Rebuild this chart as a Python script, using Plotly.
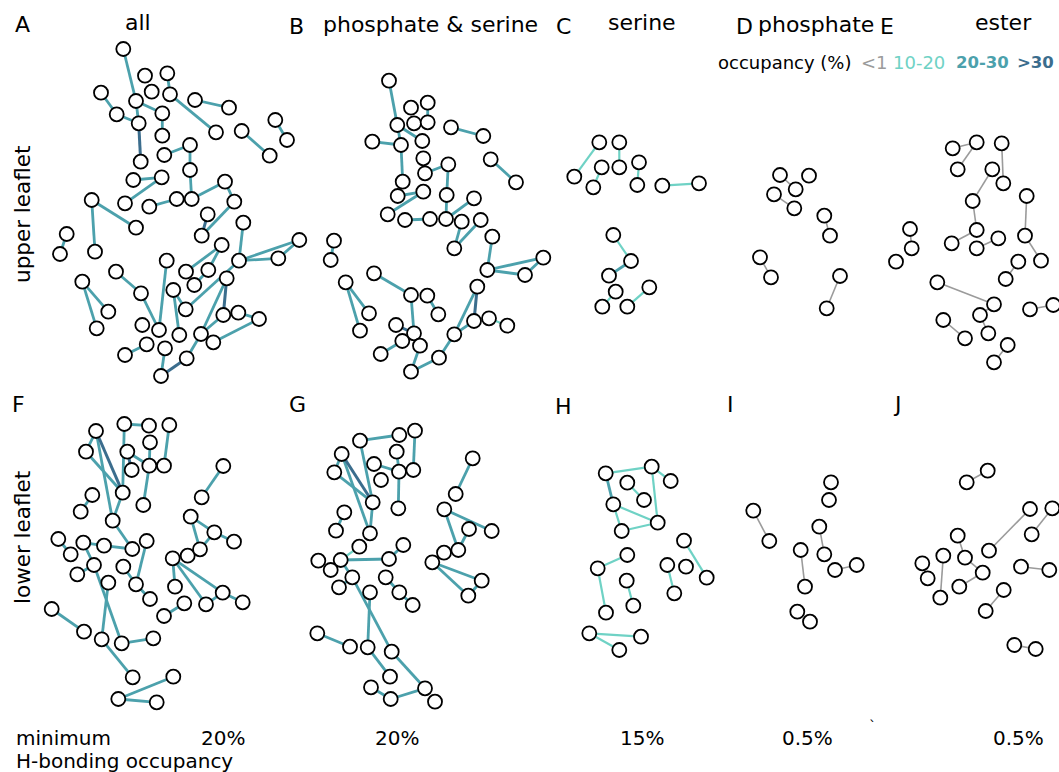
import plotly.graph_objects as go

W, H = 1059, 772

LEVEL_NAMES = ["<1", "10-20", "20-30", ">30"]
LEVEL_COLORS = ["#9b9b9b", "#6fd2c5", "#4ca1ac", "#3b6d8d"]
LEVEL_WIDTHS = [1.6, 2.2, 2.8, 3.0]

# ---- node positions (layout coordinates) and edges (i, j, occupancy level) ----
A_nodes = [(123.3,49),(145,75.7),(167.3,73.3),(151.7,91.7),(170,94.3),(101,92.7),(136,101),(195,100),(229,107.7),(116.7,114.3),(162.3,113.3),(138.7,123.3),(275.3,120),(216,132.3),(241.7,131),(287,140),(162.3,135.7),(190,145),(164.3,155),(269.7,155.7),(140.7,161.7),(190,170),(133.3,180),(161.7,177.3),(225,181.7),(91.7,200),(125,203.3),(176.7,199),(191.7,199),(149.3,206.7),(234.3,201.7),(207.7,214.3),(136,227.7),(243.3,222.7),(201.7,235.7),(66.7,234),(60,254),(95,251.7),(299.3,240),(221.7,245),(278.3,258.3),(239,260.7),(166.7,260.7),(116,271.7),(186,271.7),(208.3,270),(82.3,281.7),(226.7,278.3),(194.3,285),(173.3,290),(141,293.3),(108.3,311.7),(185.7,309.3),(238.3,312.7),(223.3,315),(259,319),(96.7,328.3),(142.3,325),(159,330),(179.3,335),(201,334),(213.3,342.3),(146.7,344.3),(165,348.3),(125,355),(186.7,358.3),(161,376)]
A_edges = [(1,7,2),(3,5,2),(5,14,2),(6,10,2),(10,12,2),(7,12,2),(7,11,2),(11,17,2),(12,21,3),(8,9,2),(13,16,2),(15,20,2),(18,19,2),(18,22,2),(22,29,2),(29,25,2),(25,31,2),(31,35,2),(32,35,3),(23,24,2),(24,27,2),(30,28,2),(26,33,2),(26,38,2),(36,37,2),(34,42,2),(42,39,2),(42,41,2),(41,39,2),(40,45,2),(40,46,2),(46,49,2),(42,53,2),(48,55,3),(48,61,2),(61,66,2),(55,61,2),(66,67,3),(64,67,2),(54,56,2),(56,62,2),(43,59,2),(51,59,2),(44,51,2),(50,53,2),(50,60,2),(47,52,2),(47,57,2),(63,65,2)]

B_nodes = [(389,80.7),(411,107.7),(427.7,102.7),(414,123.3),(427.7,122.3),(397.3,125),(451,127.3),(483.3,136),(372.3,141.7),(401,145),(422.3,141),(423.3,158.3),(490.7,159.3),(448.3,164.3),(425,173.3),(516,182.3),(402.7,181.7),(446.7,195),(397.7,196),(423.3,191.7),(474,198.3),(387.7,214.3),(405,220),(430,219),(446,219),(461.7,221.7),(480.7,220),(454.3,248.3),(334,240.7),(330.7,260),(492.3,236.7),(543.3,257.7),(487.3,270),(525,275),(374,273.3),(345.7,282.3),(477.3,286.7),(411,295),(427.3,295.7),(369,313.3),(438.3,314.3),(360,330.7),(396,325),(489,318.3),(507.3,325.7),(474,321),(414,333.3),(454.3,334.3),(402.3,341),(420,345.7),(380.7,354),(439,357.7),(411,371.7)]
B_edges = [(1,6,2),(3,5,2),(6,10,2),(6,11,2),(9,10,2),(10,17,2),(7,8,2),(13,16,2),(14,15,2),(14,18,2),(18,25,2),(25,21,2),(19,20,2),(20,22,2),(23,24,2),(26,28,2),(27,28,2),(29,30,2),(31,33,2),(33,32,2),(33,34,2),(34,32,2),(35,38,2),(38,47,2),(39,41,2),(36,40,2),(36,42,2),(37,48,2),(37,46,3),(46,48,2),(48,52,2),(52,53,2),(53,50,2),(44,45,1),(43,47,3),(49,51,2)]

C_nodes = [(599.3,142.3),(619.3,142.3),(601.7,167.3),(619.3,167.3),(639,162.3),(574.3,176.7),(593.3,187.3),(637.3,185),(662.3,185.7),(699,183.3),(613.3,235),(631,261),(609,275.7),(615.7,291.7),(649.3,287.3),(602.3,306.7),(627.3,306.7)]
C_edges = [(1,6,1),(2,4,1),(3,7,1),(5,8,1),(9,10,1),(11,12,1),(12,13,2),(14,16,1),(15,17,1)]

D_nodes = [(780,175),(809,175.7),(795.7,189.3),(774,194.3),(794.3,208.3),(824.3,215.7),(830,235.7),(760,257.3),(771,277.3),(840,276),(826.7,308.3)]
D_edges = [(1,3,0),(4,5,0),(6,7,0),(8,9,0),(10,11,0)]

E_nodes = [(952.7,148.3),(976.7,142.3),(1001.7,143.3),(957.7,169.3),(992.3,169.3),(1003.3,183.3),(1026.7,196),(972.7,201),(910,229),(976.7,230),(1025,235.7),(951.7,243.3),(998.3,238.3),(911.7,248.3),(976.7,248.3),(896,261.7),(1018.3,261.7),(1041,260.7),(1005.7,279),(937.3,282.3),(994,304.3),(980,315),(1030,309.3),(1053.3,305),(943.3,320),(988.3,333.3),(965,338.3),(1007.7,345),(994,362.3)]
E_edges = [(1,2,0),(2,4,0),(3,6,0),(5,8,0),(8,10,0),(10,12,0),(15,13,0),(7,11,0),(11,18,0),(17,19,0),(9,14,0),(20,21,0),(21,22,0),(22,26,0),(23,24,0),(25,27,0),(28,29,0)]

F_nodes = [(124.3,424),(149,425.7),(169.3,425),(96,431),(150,442.3),(86,451.7),(127.3,451.7),(149.3,465.7),(164,465.7),(131.7,470),(223.3,466),(122.7,492.7),(92.3,495),(143.3,505),(201.7,497.3),(80.7,511.7),(112.7,520.7),(190.7,516.7),(214.3,532.3),(58.3,539),(83.3,542.7),(104,545.7),(132.3,549),(146.7,541),(234,541.7),(70.7,554.3),(187.7,555.7),(200,549.3),(172.7,558.3),(94,565),(123.3,566.7),(77.3,574.3),(108.3,582.7),(136,584.3),(175,586.7),(222.7,592.7),(150,599),(206,604.3),(242.7,602.3),(184.3,603.3),(164,616),(51.7,609),(84,631.7),(101.7,639.3),(121.7,643.3),(153.3,638.3),(132.7,677.3),(173.3,676.7),(118.3,699),(156.7,702.3)]
F_edges = [(1,2,2),(1,12,2),(3,9,2),(4,6,2),(4,12,3),(4,17,2),(6,12,2),(7,8,2),(7,10,3),(5,8,2),(8,14,2),(12,17,2),(17,23,2),(13,16,2),(11,15,2),(18,19,2),(18,28,2),(19,28,2),(19,25,2),(20,26,2),(21,22,2),(21,30,2),(30,45,2),(33,44,2),(30,32,2),(22,23,2),(24,34,2),(31,34,2),(34,37,2),(29,35,2),(29,36,2),(29,38,2),(36,38,2),(36,39,2),(40,41,2),(42,43,2),(45,46,2),(44,47,2),(49,48,2),(49,50,2)]

G_nodes = [(360,440.7),(399.3,435),(415,430.7),(341.7,454),(396.7,451.7),(374,464),(334.3,472.3),(399,471.7),(413.3,470),(381,480),(472.7,458.3),(372.7,502.3),(398.3,508.3),(455.7,494),(344.3,512.3),(444.3,509.3),(336,530.7),(370,533.3),(469,529),(491.7,531),(359.3,546.7),(403.3,545),(458.3,550),(444,552.7),(318.3,560.7),(340.7,560),(389,559),(432.3,562.3),(330.7,570),(352.3,577.3),(385.7,577.3),(339,587.3),(370,592.3),(399.3,592.3),(481.7,580.7),(468.3,595.7),(412.7,605),(317.3,633.3),(350,646.7),(367.7,647.3),(391.7,651.7),(390,676.7),(371,687.3),(390.7,699),(425,688.3),(435,701.7)]
G_edges = [(1,2,2),(1,12,2),(3,9,2),(4,7,2),(4,12,3),(4,18,2),(7,12,2),(12,18,2),(6,8,2),(5,8,2),(8,13,2),(11,14,2),(15,17,2),(16,20,2),(16,23,2),(19,23,2),(21,26,1),(26,27,2),(27,22,2),(28,35,2),(28,36,2),(35,36,2),(26,30,2),(30,32,2),(30,41,2),(33,40,2),(31,34,2),(34,37,2),(38,39,2),(40,42,2),(41,45,2),(43,44,2),(44,45,2)]

H_nodes = [(605.7,473.3),(651.7,466.7),(670.7,481),(627.3,482.7),(644,500),(613.3,504.3),(657.7,522.7),(621.7,531),(684,540.7),(627.3,555),(597.7,568.3),(667.3,565),(686,566.7),(626.7,580.7),(706.7,577.7),(674.3,593.3),(633.3,605.7),(606,612.7),(589.3,633.3),(641,636.7),(619.3,650)]
H_edges = [(1,2,1),(1,6,2),(2,3,1),(2,7,1),(4,5,1),(6,7,1),(6,8,1),(8,7,1),(10,11,1),(11,18,1),(14,17,1),(12,16,1),(9,15,1),(19,20,1),(19,21,1)]

I_nodes = [(831,482.3),(829,500),(753.3,510.7),(819.3,526.7),(769.3,541),(800.7,550),(824.3,554.3),(835,570),(856.7,565),(805,586.7),(797.3,611.7),(810,621.7)]
I_edges = [(3,5,0),(4,7,0),(6,10,0),(8,9,0)]

J_nodes = [(987.7,470.7),(966.7,482.3),(1030,509),(1052.3,508.3),(1031.7,534.3),(957.7,535.7),(989,550.7),(943.3,555.7),(965,557.7),(922.3,563.3),(1021,566.7),(1049.3,570),(982.7,572.7),(927.7,578.3),(959.3,586.7),(1003.7,590),(940.3,597.7),(985.7,611),(1014.3,645),(1035.7,649)]
J_edges = [(1,2,0),(3,7,0),(4,5,0),(6,9,0),(9,13,0),(13,15,0),(8,17,0),(11,12,0),(16,18,0),(19,20,0)]

panels = [(A_nodes, A_edges), (B_nodes, B_edges), (C_nodes, C_edges), (D_nodes, D_edges),
          (E_nodes, E_edges), (F_nodes, F_edges), (G_nodes, G_edges), (H_nodes, H_edges),
          (I_nodes, I_edges), (J_nodes, J_edges)]

panel_letters = ["A", "B", "C", "D", "E", "F", "G", "H", "I", "J"]
panel_titles = ["all", "phosphate & serine", "serine", "phosphate", "ester"]
min_occupancy = ["20%", "20%", "15%", "0.5%", "0.5%"]

fig = go.Figure()

# edges first
for nodes, edges in panels:
    for lvl in range(4):
        xs, ys = [], []
        for i, j, l in edges:
            if l != lvl:
                continue
            xs += [nodes[i-1][0], nodes[j-1][0], None]
            ys += [nodes[i-1][1], nodes[j-1][1], None]
        if xs:
            fig.add_trace(go.Scatter(x=xs, y=ys, mode="lines",
                                     line=dict(color=LEVEL_COLORS[lvl], width=LEVEL_WIDTHS[lvl]),
                                     hoverinfo="skip", showlegend=False))
# nodes
for nodes, edges in panels:
    fig.add_trace(go.Scatter(x=[p[0] for p in nodes], y=[p[1] for p in nodes], mode="markers",
                             marker=dict(size=14, color="white", line=dict(color="black", width=1.8)),
                             hoverinfo="skip", showlegend=False))

FONT = "DejaVu Sans"
ann = []
def txt(x, y, s, size, color="black", xanchor="center", angle=0, bold=False):
    if bold:
        s = "<b>" + s + "</b>"
    ann.append(dict(x=x, y=y, xref="x", yref="y", text=s, showarrow=False,
                    font=dict(family=FONT, size=size, color=color),
                    xanchor=xanchor, yanchor="middle", textangle=angle))

letter_pos = [(22,24),(296,26),(563,26),(744,26),(887,26),(18,404),(297,404),(563,406),(730,404),(897,404)]
for L, (x, y) in zip(panel_letters, letter_pos):
    txt(x, y, L, 22)
title_pos = [(138,22),(430,24),(642,22),(816,24),(1003,22)]
for t, (x, y) in zip(panel_titles, title_pos):
    txt(x, y, t, 22)

txt(22, 215, "upper leaflet", 21.5, angle=-90)
txt(22, 538, "lower leaflet", 21.5, angle=-90)

# legend
txt(716, 62, "occupancy (%)", 18, xanchor="left")
leg_x = [859, 891, 954, 1015]
leg_size = [18, 18, 16.5, 16.5]
for k in range(4):
    txt(leg_x[k], 62, LEVEL_NAMES[k], leg_size[k], color=LEVEL_COLORS[k], xanchor="left", bold=(k >= 2))

txt(14, 738, "minimum", 20, xanchor="left")
txt(14, 761, "H-bonding occupancy", 20, xanchor="left")
min_x = [223, 397, 642, 807, 1018]
for s, x in zip(min_occupancy, min_x):
    txt(x, 738, s, 20)
txt(872, 726, "`", 14)

fig.update_layout(
    width=W, height=H, margin=dict(l=0, r=0, t=0, b=0),
    paper_bgcolor="white", plot_bgcolor="white", showlegend=False,
    xaxis=dict(range=[0, W], visible=False, fixedrange=True),
    yaxis=dict(range=[H, 0], visible=False, fixedrange=True),
    annotations=ann,
)
fig.write_html("out.html")
